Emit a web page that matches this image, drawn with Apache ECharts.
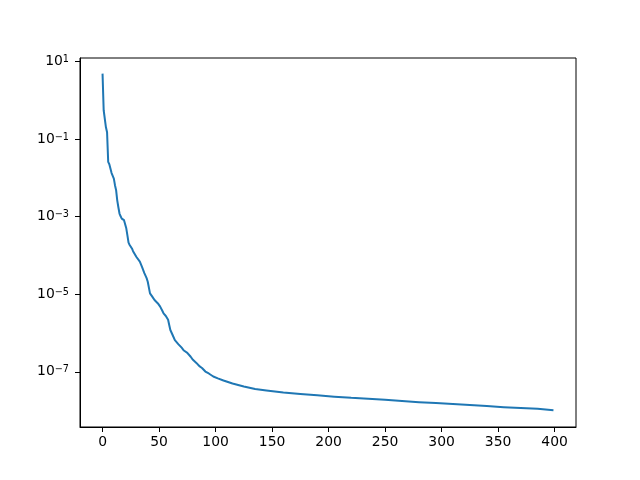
<!DOCTYPE html>
<html>
<head>
<meta charset="utf-8">
<script src="https://cdn.jsdelivr.net/npm/echarts@6/dist/echarts.min.js"></script>
<style>
html,body{margin:0;padding:0;background:#fff;}
#chart{width:640px;height:480px;}
</style>
</head>
<body>
<div id="chart"></div>
<script>
// Iteration indices
const iterations = [0,1,3,4,5,6,7,8,10,11,12,13,14,15,16,17,19,20,21,22,23,24,25,26,27,28,
  30,33,35,37,39,40,41,42,44,46,49,51,53,54,56,58,59,60,62,64,67,70,72,75,78,80,83,86,88,89,91,94,98,
  102,107,115,125,135,145,160,175,190,205,220,235,250,265,280,295,310,325,340,355,370,385,399];
// Values at those iterations (log-scale y)
const values = [4.83,0.55,0.200,0.149,0.0257,0.0224,0.0200,0.0132,0.00955,0.00646,0.00479,0.00263,0.00174,0.00120,0.00102,8.9e-4,8.1e-4,7.4e-4,5.0e-4,3.3e-4,2.14e-4,1.86e-4,1.66e-4,1.51e-4,1.29e-4,1.15e-4,
  9.1e-5,6.9e-5,5.0e-5,3.5e-5,2.6e-5,2.1e-5,2.0e-5,1.05e-5,8.7e-6,7.1e-6,5.8e-6,4.8e-6,3.7e-6,3.2e-6,2.75e-6,2.2e-6,1.62e-6,1.2e-6,8.9e-7,6.6e-7,5.2e-7,4.2e-7,3.55e-7,3.1e-7,2.45e-7,2.04e-7,1.7e-7,1.38e-7,1.26e-7,1.12e-7,1.02e-7,9.1e-8,7.6e-8,
  6.8e-8,6.0e-8,5.0e-8,4.2e-8,3.6e-8,3.3e-8,2.95e-8,2.7e-8,2.5e-8,2.3e-8,2.14e-8,2.04e-8,1.9e-8,1.78e-8,1.66e-8,1.58e-8,1.48e-8,1.41e-8,1.32e-8,1.23e-8,1.17e-8,1.12e-8,1.03e-8];
// Tick positions / labels
const xTicks = [0,50,100,150,200,250,300,350,400];
const yTicks = [10,0.1,1e-3,1e-5,1e-7];

const seriesData = iterations.map((x,i)=>[x, values[i]]);
const FONT = 'DejaVu Sans';

const chart = echarts.init(document.getElementById('chart'), null, {renderer:'canvas'});
chart.setOption({
  animation:false,
  backgroundColor:'#ffffff',
  grid:{left:80,right:64,top:58,bottom:53,containLabel:false,outerBoundsMode:'none',
        show:true,borderColor:'#000',borderWidth:1,backgroundColor:'transparent'},
  xAxis:{
    type:'value', min:-19.95, max:418.95,
    axisLine:{show:true,onZero:false,lineStyle:{color:'#000',width:1}},
    axisTick:{show:true,inside:false,length:5,customValues:xTicks,lineStyle:{color:'#000',width:1}},
    axisLabel:{show:true,customValues:xTicks,margin:8,color:'#000',fontFamily:FONT,fontSize:13.9,
      showMinLabel:true,showMaxLabel:true},
    splitLine:{show:false}
  },
  yAxis:{
    type:'log', logBase:10, min:3.8e-9, max:12.2,
    axisLine:{show:true,onZero:false,lineStyle:{color:'#000',width:1}},
    axisTick:{show:true,inside:false,length:5,customValues:yTicks,lineStyle:{color:'#000',width:1}},
    axisLabel:{show:true,customValues:yTicks,margin:11,color:'#000',fontFamily:FONT,
      formatter:function(v){
        const e = Math.round(Math.log10(v));
        return '{b|10}{s|' + (e<0?'\u2212':'') + Math.abs(e) + '}';
      },
      rich:{
        b:{fontFamily:FONT,fontSize:13.9,lineHeight:14,verticalAlign:'bottom',color:'#000'},
        s:{fontFamily:FONT,fontSize:9.7,lineHeight:10,verticalAlign:'top',padding:[0,0,8,0],color:'#000'}
      }
    },
    splitLine:{show:false},
    minorTick:{show:false}
  },
  series:[{
    type:'line',
    data:seriesData,
    showSymbol:false,
    symbol:'none',
    lineStyle:{color:'#1f77b4',width:2,cap:'butt',join:'round'},
    clip:true
  }]
});
</script>
</body>
</html>
